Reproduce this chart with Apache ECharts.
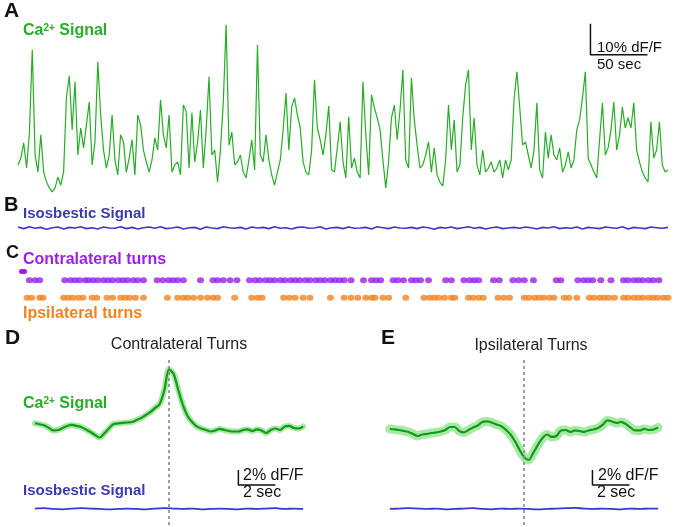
<!DOCTYPE html>
<html>
<head>
<meta charset="utf-8">
<script src="https://cdn.jsdelivr.net/npm/echarts@6/dist/echarts.min.js"></script>
<style>
  html, body { margin: 0; padding: 0; background: #fff; }
  #main { width: 676px; height: 527px; }
</style>
</head>
<body>
<div id="main"></div>
<script>
// ---- data ----
// A: Ca2+ trace, %dF/F, one sample every 2.5 s
var CA_DT = 2.5;
var caSignal = [
  6.3, 8.5, 13.4, 5.3, 16.6, 43.4, 9.5, 4.0, 16.0, 4.0,
  0.8, -1.1, -2.4, -1.1, 2.4, -0.2, 4.0, 28.2, 35.0, 17.6,
  33.1, 9.5, 18.2, 11.8, 19.2, 26.6, 6.3, 13.7, 39.5, 22.4,
  11.1, 5.3, 9.5, 22.4, 7.9, 3.1, 16.0, 13.7, 4.0, 8.5,
  14.4, 3.1, 22.4, 19.2, 11.1, 7.3, 4.0, 7.9, 15.0, 11.1,
  27.3, 16.0, 11.8, 22.4, 4.0, 6.3, 7.3, 3.1, 25.6, 23.4,
  5.3, 23.1, 7.3, 13.7, 24.0, 5.3, 17.6, 34.7, 9.5, 11.1,
  0.8, 11.1, 26.3, 51.5, 12.7, 16.9, 6.3, 7.3, 9.5, 4.0,
  2.1, 7.9, 14.4, 4.7, 45.0, 9.5, 7.3, 16.0, 7.9, 3.1,
  -0.2, 4.0, 7.9, 17.6, 29.5, 11.1, 25.0, 27.9, 22.4, 18.2,
  7.3, 4.0, 3.1, 11.1, 33.7, 18.2, 14.4, 9.5, 16.0, 25.3,
  4.7, 4.0, 11.8, 20.2, 7.3, 2.1, 21.8, 5.3, 8.5, 4.0,
  2.1, 33.1, 16.0, 3.1, 28.9, 24.7, 21.5, 17.6, 7.9, -1.1,
  7.3, 21.5, 25.6, 14.4, 24.0, 36.9, 7.9, 5.3, 34.4, 20.8,
  12.7, 5.3, 6.3, 9.5, 13.7, 4.0, 11.8, 3.1, 0.8, -0.5,
  7.9, 25.6, 11.1, 20.8, 4.0, 6.3, 21.5, 32.1, 36.9, 11.1,
  21.5, 6.3, 3.1, 11.1, 4.0, 5.3, 7.3, 4.0, 5.3, 7.9,
  2.1, 7.9, 4.7, 7.9, 27.3, 36.3, 24.7, 12.7, 13.7, 9.5,
  5.3, 11.1, 26.3, 4.7, 2.1, 16.9, 8.5, 16.0, 9.5, 7.9,
  11.8, 4.0, 6.3, 10.5, 5.3, 7.9, 17.6, 20.8, 27.9, 36.3,
  8.5, 6.3, 4.0, 2.1, 14.4, 26.3, 9.5, 11.8, 17.6, 26.6,
  11.1, 16.0, 25.0, 18.2, 21.5, 18.2, 26.3, 11.1, 7.3, 4.0,
  2.1, 0.8, 20.2, 8.5, 11.1, 20.2, 6.3, 4.0, 4.7
];

// B: isosbestic trace, %dF/F, one sample every 5 s
var ISO_DT = 5;
var isoSignal = [
  0.3, -0.2, 0.4, -0.1, 0.2, -0.4, 0.1, 0.3, -0.3, 0.2,
  0.0, 0.4, -0.2, 0.1, -0.3, 0.3, 0.0, -0.1, 0.4, -0.2,
  0.2, -0.3, 0.1, 0.3, -0.1, 0.4, -0.2, 0.0, 0.3, -0.3,
  0.1, 0.2, -0.4, 0.3, 0.0, -0.2, 0.4, 0.1, -0.1, 0.2,
  -0.3, 0.3, 0.0, 0.2, -0.2, 0.4, -0.1, 0.1, -0.3, 0.2,
  0.3, -0.1, 0.0, 0.4, -0.3, 0.1, 0.2, -0.2, 0.3, -0.1,
  0.0, 0.2, -0.3, 0.4, 0.1, -0.2, 0.3, 0.0, -0.1, 0.2,
  -0.2, 0.3, 0.1, -0.4, 0.2, 0.0, 0.3, -0.2, 0.1, 0.4,
  -0.1, 0.2, -0.3, 0.1, 0.3, -0.2, 0.0, 0.2, -0.1, 0.3,
  0.1, -0.3, 0.2, 0.0, 0.4, -0.2, 0.1, -0.1, 0.3, -0.3,
  0.2, 0.0, -0.2, 0.3, 0.1, -0.1, 0.4, -0.3, 0.2, 0.0,
  -0.2, 0.3, 0.1, -0.1, 0.2
];

// C: turn onsets, seconds
var contraTurns = [
  10, 15, 19, 41, 46, 50, 54, 59, 62, 66, 70, 75, 79, 83, 88, 92, 96, 101, 105, 110,
  122, 127, 132, 136, 140, 145, 160, 171, 175, 180, 186, 192,
  203, 208, 212, 217, 221, 225, 230, 234, 239, 243, 247, 252, 256, 261, 265, 269, 274, 278, 282,
  286, 292, 303, 310, 314, 318, 329, 333, 338, 345, 349, 353, 360, 375, 380,
  391, 396, 400, 404, 417, 422, 434, 439, 444, 452, 472, 476,
  491, 496, 500, 504, 511, 520, 531, 535, 540, 544, 548, 553, 557, 562
];
var ipsiTurns = [
  8, 12, 19, 22, 40, 44, 48, 53, 57, 65, 69, 78, 83, 90, 94, 98, 103, 110,
  131, 140, 145, 149, 154, 160, 166, 171, 175, 190, 205, 210, 214,
  233, 238, 243, 250, 256, 274, 286, 292, 298, 305, 310, 313, 320, 325, 340,
  356, 361, 365, 369, 374, 380, 383, 395, 399, 404, 408, 421, 426, 431,
  444, 448, 453, 457, 461, 466, 470, 479, 483, 490,
  501, 505, 510, 514, 518, 523, 531, 535, 540, 544, 548, 553, 557, 561, 566, 570
];

// D/E: turn-triggered averages, %dF/F, -7.25..7.25 s
var AVG_T0 = -7.25, AVG_DT = 0.25, ISO_AVG_DT = 0.5;
var caContra = [
  0.63, 0.5, 0.36, 0.03, -0.33, -0.27, 0, 0.27, 0.4, 0.27,
  0.13, -0.2, -0.53, -0.93, -1.27, -0.73, -0.07, 0.53, 0.6, 0.67,
  0.73, 0.8, 1.07, 1.33, 1.73, 2.13, 2.67, 3.2, 5.07, 7.8,
  7.2, 5.07, 3.07, 1.6, 0.8, 0.2, -0.07, -0.27, -0.47, -0.33,
  -0.13, -0.27, -0.4, -0.47, -0.47, -0.27, -0.2, -0.4, -0.2, -0.33,
  -0.67, -0.27, -0.07, -0.27, 0.2, 0.27, 0, -0.07, 0.2
];
var caIpsi = [
  -0.13, -0.2, -0.27, -0.4, -0.53, -0.8, -1.07, -0.87, -0.8, -0.67,
  -0.6, -0.47, -0.27, 0.13, 0.13, -0.4, -0.6, -0.27, 0.07, 0.33,
  0.8, 0.87, 0.73, 0.47, 0.27, -0.2, -0.8, -1.73, -2.87, -3.87,
  -4.27, -3.33, -2.27, -1.33, -0.87, -1.2, -1.07, -0.33, -0.27, -0.53,
  -0.33, -0.4, -0.53, -0.33, -0.2, 0, 0.4, 1.0, 0.87, 0.67,
  0.8, 0.53, 0.07, -0.33, -0.33, -0.13, -0.27, -0.2, 0.07
];
var isoContra = [
  0.05, 0.1, 0.0, -0.05, 0.05, 0.1, 0.05, 0.0, -0.05, 0.0,
  0.05, 0.0, -0.05, 0.05, 0.1, 0.05, 0.0, 0.05, -0.05, 0.0,
  0.05, 0.0, -0.05, 0.05, 0.0, 0.05, 0.1, 0.0, 0.05, 0.0
];
var isoIpsi = [
  0.0, 0.05, 0.1, 0.05, 0.0, 0.05, -0.05, 0.0, 0.05, 0.1,
  0.0, -0.05, 0.05, 0.0, 0.05, 0.0, -0.05, 0.0, 0.05, 0.1,
  0.15, 0.05, 0.0, 0.05, 0.0, -0.05, 0.05, 0.0, 0.05, 0.05
];

// scale bars: [time, dF/F] lengths
var barA = { t: 502, v: 41.8, dt: 50, dv: 10 };
var barD = { t: 3.75, v: -7.6, dt: 2, dv: 2 };
var barE = { t: 3.7, v: -7.6, dt: 2, dv: 2 };

// ---- colours ----
var GREEN = '#27ad27', GREEN_DARK = '#16991a', GREEN_BAND = '#a6eaa6';
var BLUE = '#3a3ac6', BLUE_TXT = '#3b3bb0';
var PURPLE = '#9a20ea', ORANGE = '#f5821f';
var FONT = 'Liberation Sans, Arial, sans-serif';

function pairs(arr, t0, dt) {
  return arr.map(function (v, i) { return [t0 + i * dt, v]; });
}
function bar(b) {
  return [[b.t, b.v + b.dv], [b.t, b.v], [b.t + b.dt, b.v]];
}
function txt(x, y, s, size, color, bold, align) {
  return {
    type: 'text', x: x, y: y, silent: true,
    style: {
      text: s, fill: color, align: align || 'left', verticalAlign: 'middle',
      font: (bold ? 'bold ' : '') + size + 'px ' + FONT
    }
  };
}
function caLabel(x, y) {
  return {
    type: 'text', x: x, y: y, silent: true,
    style: {
      text: '{a|Ca}{s|2+}{a| Signal}', align: 'left', verticalAlign: 'middle',
      rich: {
        a: { fontSize: 16, fontWeight: 'bold', fontFamily: FONT, fill: GREEN, color: GREEN },
        s: { fontSize: 10, fontWeight: 'bold', fontFamily: FONT, fill: GREEN, color: GREEN, verticalAlign: 'top', padding: [0, 0, 6, 0] }
      }
    }
  };
}

var chart = echarts.init(document.getElementById('main'));

var hiddenX = function (grid, min, max) { return { type: 'value', gridIndex: grid, min: min, max: max, show: false }; };
var hiddenY = function (grid, min, max) { return { type: 'value', gridIndex: grid, min: min, max: max, show: false }; };

var option = {
  animation: false,
  backgroundColor: '#fff',
  grid: [
    { left: 18, top: 20, width: 650, height: 180 },
    { left: 18, top: 220, width: 650, height: 16 },
    { left: 18, top: 276, width: 650, height: 26 },
    { left: 30.25, top: 358, width: 277.5, height: 167 },
    { left: 385.25, top: 358, width: 277.5, height: 167 }
  ],
  xAxis: [
    hiddenX(0, 0, 570), hiddenX(1, 0, 570), hiddenX(2, 0, 570),
    hiddenX(3, -7.5, 7.5), hiddenX(4, -7.5, 7.5)
  ],
  yAxis: [
    hiddenY(0, -5, 53), hiddenY(1, -2.58, 2.58), hiddenY(2, -0.25, 1.25),
    hiddenY(3, -12.94, 9.33), hiddenY(3, -2.14, 20.13),
    hiddenY(4, -12.94, 9.33), hiddenY(4, -2.14, 20.13)
  ],
  series: [
    { type: 'line', xAxisIndex: 0, yAxisIndex: 0, data: pairs(caSignal, 0, CA_DT), showSymbol: false,
      lineStyle: { color: GREEN, width: 1.2 } },
    { type: 'line', xAxisIndex: 0, yAxisIndex: 0, data: bar(barA), showSymbol: false,
      lineStyle: { color: '#111', width: 1.5 } },
    { type: 'line', xAxisIndex: 1, yAxisIndex: 1, data: pairs(isoSignal, 0, ISO_DT), showSymbol: false,
      lineStyle: { color: BLUE, width: 1.6 } },
    { type: 'scatter', xAxisIndex: 2, yAxisIndex: 2, symbol: 'circle', symbolSize: [7, 6],
      data: contraTurns.map(function (t) { return [t, 1]; }), itemStyle: { color: PURPLE } },
    { type: 'scatter', xAxisIndex: 2, yAxisIndex: 2, symbol: 'circle', symbolSize: [7, 6],
      data: ipsiTurns.map(function (t) { return [t, 0]; }), itemStyle: { color: ORANGE } },

    // D
    { type: 'line', xAxisIndex: 3, yAxisIndex: 3, data: pairs(caContra, AVG_T0, AVG_DT), showSymbol: false, smooth: 0.3,
      lineStyle: { color: GREEN_BAND, width: 6, cap: 'round', join: 'round' } },
    { type: 'line', xAxisIndex: 3, yAxisIndex: 3, data: pairs(caContra, AVG_T0, AVG_DT), showSymbol: false, smooth: 0.3,
      lineStyle: { color: GREEN_DARK, width: 2.2 },
      markLine: { silent: true, symbol: 'none', label: { show: false },
        lineStyle: { color: '#8a8a8a', type: [3, 3], width: 1.6 }, data: [{ xAxis: 0 }] } },
    { type: 'line', xAxisIndex: 3, yAxisIndex: 4, data: pairs(isoContra, AVG_T0, ISO_AVG_DT), showSymbol: false, smooth: 0.3,
      lineStyle: { color: BLUE, width: 1.8 } },
    { type: 'line', xAxisIndex: 3, yAxisIndex: 3, data: bar(barD), showSymbol: false,
      lineStyle: { color: '#111', width: 1.5 } },

    // E
    { type: 'line', xAxisIndex: 4, yAxisIndex: 5, data: pairs(caIpsi, AVG_T0, AVG_DT), showSymbol: false, smooth: 0.3,
      lineStyle: { color: GREEN_BAND, width: 9, cap: 'round', join: 'round' } },
    { type: 'line', xAxisIndex: 4, yAxisIndex: 5, data: pairs(caIpsi, AVG_T0, AVG_DT), showSymbol: false, smooth: 0.3,
      lineStyle: { color: GREEN_DARK, width: 2.2 },
      markLine: { silent: true, symbol: 'none', label: { show: false },
        lineStyle: { color: '#8a8a8a', type: [3, 3], width: 1.6 }, data: [{ xAxis: 0 }] } },
    { type: 'line', xAxisIndex: 4, yAxisIndex: 6, data: pairs(isoIpsi, AVG_T0, ISO_AVG_DT), showSymbol: false, smooth: 0.3,
      lineStyle: { color: BLUE, width: 1.8 } },
    { type: 'line', xAxisIndex: 4, yAxisIndex: 5, data: bar(barE), showSymbol: false,
      lineStyle: { color: '#111', width: 1.5 } }
  ],
  graphic: [
    txt(4, 11, 'A', 21, '#111', true),
    caLabel(23, 31),
    txt(597, 47.5, '10% dF/F', 15, '#111', false),
    txt(597, 65, '50 sec', 15, '#111', false),

    txt(4, 205, 'B', 20, '#111', true),
    txt(23, 214, 'Isosbestic Signal', 15, BLUE_TXT, true),

    txt(6, 253, 'C', 18, '#111', true),
    txt(23, 260, 'Contralateral turns', 16, PURPLE, true),
    { type: 'rect', silent: true, shape: { x: 19, y: 269, width: 8, height: 5, r: 2.5 }, style: { fill: PURPLE } },
    txt(23, 314, 'Ipsilateral turns', 16, ORANGE, true),

    txt(5, 338, 'D', 21, '#111', true),
    txt(179, 345, 'Contralateral Turns', 16, '#222', false, 'center'),
    caLabel(23, 404),
    txt(23, 491, 'Isosbestic Signal', 15, BLUE_TXT, true),
    txt(243, 476, '2% dF/F', 16, '#111', false),
    txt(243, 493, '2 sec', 16, '#111', false),

    txt(381, 338, 'E', 21, '#111', true),
    txt(531, 346, 'Ipsilateral Turns', 16, '#222', false, 'center'),
    txt(598, 476, '2% dF/F', 16, '#111', false),
    txt(597, 493, '2 sec', 16, '#111', false)
  ]
};

chart.setOption(option);
</script>
</body>
</html>
